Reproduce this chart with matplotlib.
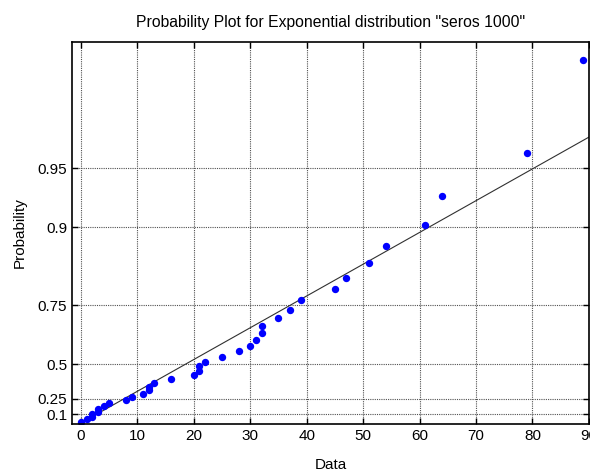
import numpy as np
import matplotlib
matplotlib.use('Agg')
import matplotlib.pyplot as plt

plt.rcParams['font.family'] = ['Liberation Sans', 'DejaVu Sans']

# sorted sample values and the probabilities they are plotted at
data = [0, 1, 2, 2, 3, 3, 4, 5, 8, 9, 11, 12, 12, 13, 16, 20, 21, 21,
        22, 25, 28, 30, 31, 32, 32, 35, 37, 39, 45, 47, 51, 54, 61, 64, 79, 89]
prob = [0.014, 0.042, 0.069, 0.097, 0.125, 0.153, 0.181, 0.208, 0.236,
        0.264, 0.292, 0.319, 0.347, 0.375, 0.403, 0.431, 0.458, 0.486,
        0.514, 0.542, 0.569, 0.597, 0.625, 0.653, 0.681, 0.708, 0.736,
        0.764, 0.792, 0.819, 0.847, 0.875, 0.903, 0.931, 0.958, 0.986]
ytick_probs = [0.1, 0.25, 0.5, 0.75, 0.9, 0.95]
ytick_labels = ['0.1', '0.25', '0.5', '0.75', '0.9', '0.95']
xticks = list(range(0, 100, 10))

def to_y(p):
    return -np.log(1 - np.asarray(p))

fig = plt.figure(figsize=(5.9, 4.72), dpi=100)
ax = fig.add_axes([0.122, 0.102, 0.876, 0.809])

mu = np.mean(data)
xl = np.array([0, 90])
ax.plot(xl, xl / mu, color='#303030', lw=0.8)
ax.plot(data, to_y(prob), 'o', color='#0000ff', markersize=5.3, markeredgewidth=0)

ax.set_xlim(-1.6, 90)
ax.set_ylim(-0.01, 4.48)
ax.set_xticks(xticks)
ax.set_yticks(to_y(ytick_probs))
ax.set_yticklabels(ytick_labels)
ax.grid(True, color='#505050', linestyle=(0, (1, 1)), linewidth=0.8)
ax.tick_params(direction='in', length=4, top=True, right=True, labelsize=11, width=1, colors='black')
for s in ax.spines.values():
    s.set_linewidth(1.2)

ax.set_title('Probability Plot for Exponential distribution "seros 1000"', fontsize=11.3, pad=11)
ax.set_xlabel('Data', fontsize=11, labelpad=11)
ax.set_ylabel('Probability', fontsize=11, labelpad=8)

fig.savefig('out.png', dpi=100)
